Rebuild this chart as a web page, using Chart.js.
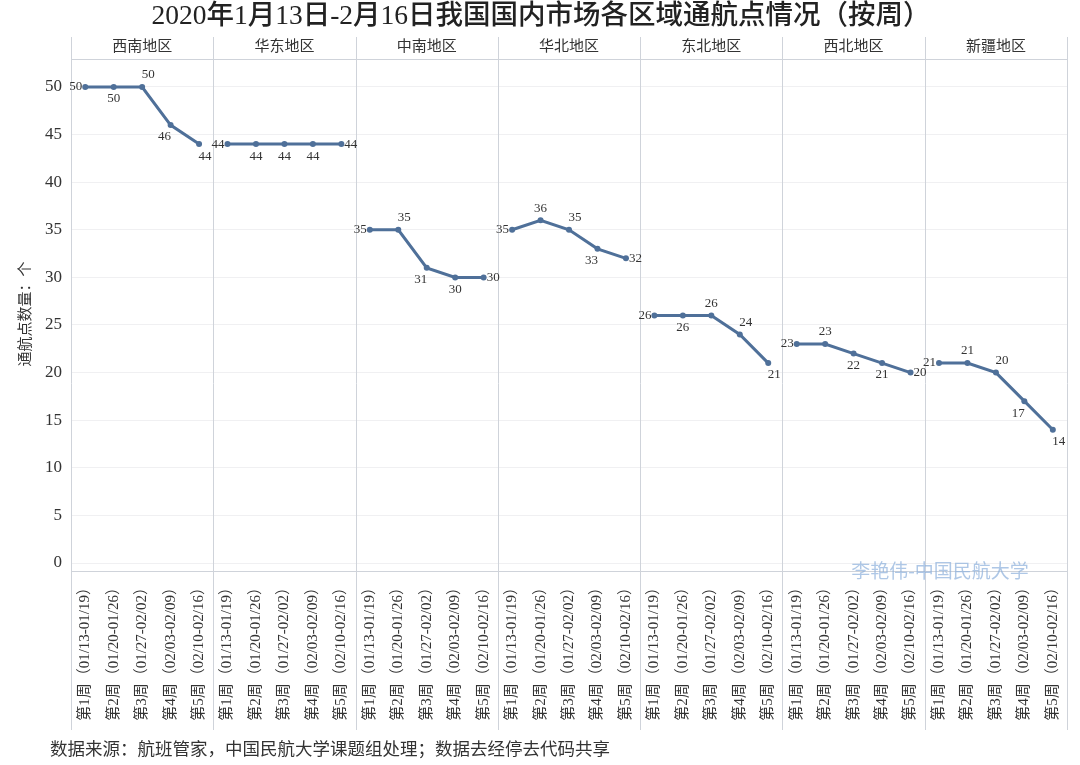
<!DOCTYPE html>
<html>
<head>
<meta charset="utf-8">
<script src="https://cdn.jsdelivr.net/npm/chart.js@4/dist/chart.umd.min.js"></script>
<style>
html,body{margin:0;padding:0;background:#fff;}
#wrap{width:1080px;height:765px;position:relative;}
</style>
</head>
<body>
<div id="wrap"><canvas id="c" width="1080" height="765"></canvas></div>
<script>
// ---- data ----
const regions = ['西南地区','华东地区','中南地区','华北地区','东北地区','西北地区','新疆地区'];
const weeks = ['第1周（01/13-01/19）','第2周（01/20-01/26）','第3周（01/27-02/02）','第4周（02/03-02/09）','第5周（02/10-02/16）'];
const xinan    = [50, 50, 50, 46, 44];
const huadong  = [44, 44, 44, 44, 44];
const zhongnan = [35, 35, 31, 30, 30];
const huabei   = [35, 36, 35, 33, 32];
const dongbei  = [26, 26, 26, 24, 21];
const xibei    = [23, 23, 22, 21, 20];
const xinjiang = [21, 21, 20, 17, 14];
const yTicks = [0, 5, 10, 15, 20, 25, 30, 35, 40, 45, 50];

// label placement (style)
const labelPlacement = [
  ['L','B','TR','BL','BR'],
  ['L','B','B','B','R'],
  ['L','TR','BL','B','R'],
  ['L','T','TR','BL','R'],
  ['L','B','T','TR','BR'],
  ['L','T','B','B','R'],
  ['L','T','TR','BL','BR']
];

const series = [xinan, huadong, zhongnan, huabei, dongbei, xibei, xinjiang];
const nW = weeks.length;
const labels = [];
regions.forEach(() => weeks.forEach(w => labels.push(w)));

const LINE = '#4f7099';
const SERIF = '"Liberation Serif", "Noto Sans CJK SC", serif';
const datasets = series.map((vals, r) => {
  const d = new Array(labels.length).fill(null);
  vals.forEach((v, i) => { d[r * nW + i] = v; });
  return {
    label: regions[r], data: d,
    borderColor: LINE, backgroundColor: LINE,
    borderWidth: 3, pointRadius: 3, pointHoverRadius: 3,
    pointBackgroundColor: LINE, pointBorderWidth: 0,
    spanGaps: false, tension: 0
  };
});

const deco = {
  id: 'deco',
  beforeDatasetsDraw(chart) {
    const ctx = chart.ctx, ca = chart.chartArea;
    const step = (ca.right - ca.left) / labels.length;
    ctx.save();
    ctx.strokeStyle = '#cfd3da'; ctx.lineWidth = 1;
    ctx.beginPath(); ctx.moveTo(ca.left, ca.top + 0.5); ctx.lineTo(ca.right, ca.top + 0.5); ctx.stroke();
    ctx.beginPath(); ctx.moveTo(ca.left, ca.bottom + 0.5); ctx.lineTo(ca.right, ca.bottom + 0.5); ctx.stroke();
    for (let k = 0; k <= regions.length; k++) {
      const x = Math.round(ca.left + k * nW * step) + 0.5;
      ctx.beginPath(); ctx.moveTo(x, 37); ctx.lineTo(x, 730); ctx.stroke();
    }
    ctx.fillStyle = '#333'; ctx.font = '15px ' + SERIF;
    ctx.textAlign = 'center'; ctx.textBaseline = 'middle';
    regions.forEach((r, k) => {
      const cx = ca.left + (k * nW + nW / 2) * step;
      ctx.fillText(r, cx, 47);
    });
    ctx.restore();
  },
  afterDatasetsDraw(chart) {
    const ctx = chart.ctx;
    ctx.save();
    ctx.fillStyle = '#333'; ctx.font = '13px ' + SERIF;
    series.forEach((vals, r) => {
      const meta = chart.getDatasetMeta(r);
      vals.forEach((v, i) => {
        const pt = meta.data[r * nW + i];
        const p = labelPlacement[r][i];
        let x = pt.x, y = pt.y;
        ctx.textBaseline = 'middle';
        if (p === 'L') { ctx.textAlign = 'right'; x -= 3; }
        else if (p === 'R') { ctx.textAlign = 'left'; x += 3; }
        else {
          ctx.textAlign = 'center';
          y += p[0] === 'T' ? -12 : 12;
          if (p[1] === 'R') x += 6;
          if (p[1] === 'L') x -= 6;
        }
        ctx.fillText(String(v), x, y);
      });
    });
    ctx.fillStyle = '#222'; ctx.textAlign = 'center'; ctx.textBaseline = 'middle';
    ctx.font = '500 27.5px ' + SERIF;
    ctx.fillText('2020年1月13日-2月16日我国国内市场各区域通航点情况（按周）', 541, 17);
    ctx.textAlign = 'left'; ctx.font = '17.5px ' + SERIF; ctx.fillStyle = '#333';
    ctx.fillText('数据来源：航班管家，中国民航大学课题组处理；数据去经停去代码共享', 50, 750);
    ctx.save(); ctx.translate(26, 314); ctx.rotate(-Math.PI / 2);
    ctx.textAlign = 'center'; ctx.font = '15px ' + SERIF; ctx.fillStyle = '#333';
    ctx.fillText('通航点数量：个', 0, 0);
    ctx.restore();
    ctx.textAlign = 'center'; ctx.font = '19px "Noto Sans CJK SC", sans-serif';
    ctx.fillStyle = 'rgba(140,175,220,0.7)';
    ctx.fillText('李艳伟-中国民航大学', 940, 571);
    ctx.restore();
  }
};

new Chart(document.getElementById('c'), {
  type: 'line',
  data: { labels, datasets },
  options: {
    responsive: false, animation: false,
    layout: { padding: { left: 0, right: 12, top: 59, bottom: 0 } },
    plugins: { legend: { display: false }, tooltip: { enabled: false }, title: { display: false } },
    scales: {
      x: {
        type: 'category', offset: true,
        grid: { display: false, drawTicks: false },
        border: { display: false },
        ticks: {
          autoSkip: false, minRotation: 90, maxRotation: 90, padding: 9,
          color: '#333', font: { family: SERIF, size: 15 }
        },
        afterFit(s) { s.height = 765 - 571; }
      },
      y: {
        min: -0.84, max: 52.94,
        grid: { color: '#f0f0f2', drawTicks: false },
        border: { display: false },
        ticks: { padding: 9, color: '#333', font: { family: SERIF, size: 17 } },
        afterBuildTicks(s) { s.ticks = yTicks.map(v => ({ value: v })); },
        afterFit(s) { s.width = 71; }
      }
    }
  },
  plugins: [deco]
});
</script>
</body>
</html>
